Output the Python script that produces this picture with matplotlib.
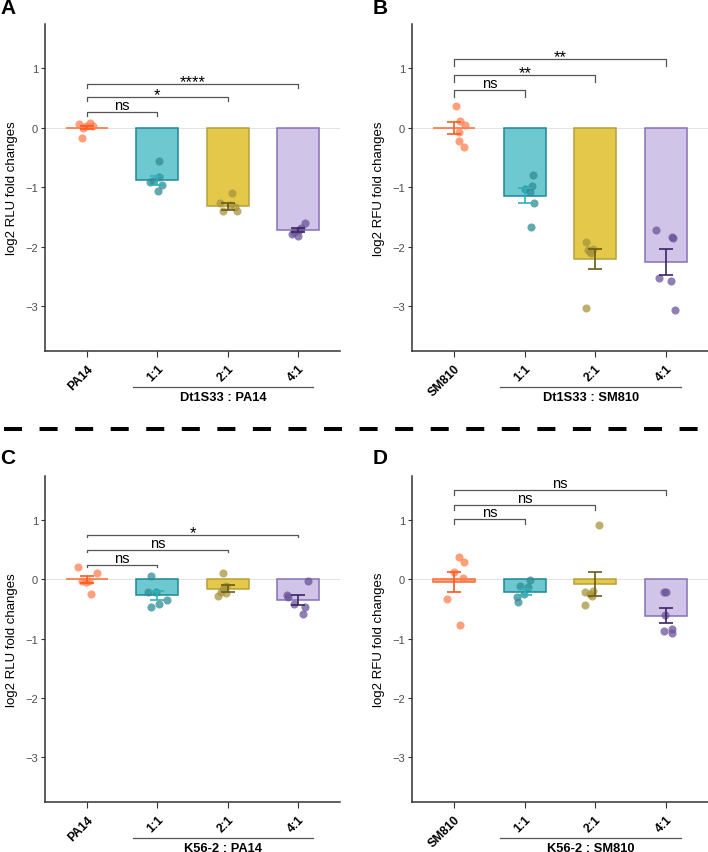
import matplotlib
matplotlib.use("Agg")
import matplotlib.pyplot as plt
import matplotlib.transforms as mtransforms
from matplotlib.lines import Line2D

plt.rcParams['font.family'] = ['Liberation Sans', 'DejaVu Sans']
plt.rcParams['lines.scale_dashes'] = False

# ---- data ----
groups_pa = ["PA14", "1:1", "2:1", "4:1"]
groups_sm = ["SM810", "1:1", "2:1", "4:1"]

# panel A : Dt1S33 : PA14
means_A = [0.0, -0.88, -1.32, -1.72]
se_A = [0.03, 0.075, 0.055, 0.04]
points_A = [[0.06, -0.18, 0.0, 0.07, 0.03, 0.02],
            [-0.56, -0.92, -0.83, -0.97, -1.06, -0.90],
            [-1.10, -1.27, -1.40, -1.33, -1.40, -1.30],
            [-1.60, -1.68, -1.78, -1.82, -1.75, -1.72]]
jitter_A = [[-0.11, -0.07, -0.06, 0.04, 0.08, -0.01],
            [0.03, -0.11, 0.03, 0.06, 0.01, -0.06],
            [0.06, -0.11, -0.07, 0.11, 0.14, 0.04],
            [0.10, 0.05, -0.09, 0.0, -0.06, 0.02]]
sig_A = ["ns", "*", "****"]
sig_y_A = [0.26, 0.51, 0.74]

# panel B : Dt1S33 : SM810
means_B = [-0.01, -1.14, -2.21, -2.26]
se_B = [0.105, 0.12, 0.165, 0.22]
points_B = [[0.36, 0.11, 0.05, -0.07, -0.23, -0.32],
            [-0.79, -0.98, -1.03, -1.08, -1.27, -1.66],
            [-1.92, -2.06, -2.11, -2.04, -3.02, -2.08],
            [-1.72, -1.84, -1.85, -2.52, -2.57, -3.07]]
jitter_B = [[0.03, 0.08, 0.15, 0.06, 0.06, 0.14],
            [0.12, 0.10, 0.0, 0.07, 0.13, 0.09],
            [-0.13, -0.10, -0.06, -0.03, -0.13, -0.08],
            [-0.14, 0.09, 0.10, -0.10, 0.07, 0.13]]
sig_B = ["ns", "**", "**"]
sig_y_B = [0.63, 0.88, 1.15]

# panel C : K56-2 : PA14
means_C = [0.0, -0.27, -0.16, -0.35]
se_C = [0.06, 0.08, 0.06, 0.08]
points_C = [[0.21, 0.11, -0.02, -0.04, -0.03, -0.24],
            [0.06, -0.21, -0.21, -0.35, -0.42, -0.47],
            [0.10, -0.11, -0.17, -0.21, -0.28, -0.23],
            [-0.03, -0.26, -0.30, -0.41, -0.47, -0.59]]
jitter_C = [[-0.13, 0.14, -0.08, -0.01, 0.02, 0.06],
            [-0.09, -0.13, -0.02, 0.13, 0.02, -0.09],
            [-0.06, -0.02, -0.06, -0.09, -0.13, -0.03],
            [0.14, -0.15, -0.14, -0.05, 0.10, 0.08]]
sig_C = ["ns", "ns", "*"]
sig_y_C = [0.24, 0.50, 0.75]

# panel D : K56-2 : SM810
means_D = [-0.045, -0.21, -0.075, -0.61]
se_D = [0.175, 0.05, 0.20, 0.13]
points_D = [[0.37, 0.29, 0.13, 0.02, -0.33, -0.77],
            [-0.01, -0.12, -0.13, -0.29, -0.38, -0.24],
            [0.92, -0.22, -0.20, -0.28, -0.43, -0.24],
            [-0.22, -0.21, -0.60, -0.87, -0.83, -0.90]]
jitter_D = [[0.07, 0.14, 0.0, 0.13, -0.11, 0.08],
            [0.07, -0.07, 0.05, -0.11, -0.09, -0.01],
            [0.06, -0.14, -0.03, -0.04, -0.14, -0.07],
            [-0.03, 0.01, -0.01, -0.02, 0.09, 0.09]]
sig_D = ["ns", "ns", "ns"]
sig_y_D = [1.01, 1.25, 1.50]

fill_cols = ["#FFAA8A", "#6EC8D0", "#E3C84A", "#D0C4E8"]
edge_cols = ["#FF6A33", "#1B8797", "#B8A03A", "#8670B0"]
point_cols = ["#FF7F50", "#2F8C96", "#A8953E", "#6B5499"]
err_cols = ["#FF5A1F", "#2AB3BF", "#6B5B15", "#3D2466"]


def panel(ax, groups, means, se, points, jitter, sig, sig_y, tip, ylab, group_lab):
    x = range(len(groups))
    ax.axhline(0, color="#E3E3E3", lw=0.7, zorder=0)
    ax.bar(x, means, width=0.6, color=fill_cols, edgecolor=edge_cols,
           linewidth=1.1, zorder=1)
    for i in x:
        xs = [i + j for j in jitter[i]]
        ax.scatter(xs, points[i], s=34, color=point_cols[i], alpha=0.75,
                   linewidths=0, zorder=2)
        ax.errorbar(i, means[i], yerr=se[i], color=err_cols[i], capsize=4.8,
                    elinewidth=1.2, capthick=1.2, zorder=3)
    # significance brackets
    for k, (lab, y) in enumerate(zip(sig, sig_y)):
        x2 = k + 1
        ax.plot([0, 0, x2, x2], [y - tip, y, y, y - tip], color="#555555",
                lw=0.9, zorder=4)
        if lab == "ns":
            ax.text(x2 / 2, y + 0.12, lab, ha="center", va="center",
                    fontsize=10.5, color="black")
        else:
            ax.text(x2 / 2, y + 0.04, lab, ha="center", va="center",
                    fontsize=12, color="black")
    ax.set_xlim(-0.6, 3.6)
    ax.set_ylim(-3.75, 1.74)
    ax.set_yticks([-3, -2, -1, 0, 1])
    ax.set_xticks(list(x))
    ax.set_xticklabels(groups, rotation=45, ha="right", va="top",
                       rotation_mode="anchor", fontweight="bold", fontsize=8.8)
    ax.tick_params(axis="y", labelsize=8, labelcolor="#4D4D4D", length=3,
                   width=0.8, color="#333333", pad=2)
    ax.tick_params(axis="x", length=4, width=0.8, color="#333333", pad=4)
    for s in ["top", "right"]:
        ax.spines[s].set_visible(False)
    for s in ["left", "bottom"]:
        ax.spines[s].set_linewidth(1.1)
        ax.spines[s].set_color("#333333")
    ax.set_ylabel(ylab, fontsize=9.5, labelpad=5)
    trans = mtransforms.blended_transform_factory(ax.transData, ax.transAxes)
    ax.add_line(Line2D([0.654, 3.22], [-0.109, -0.109], transform=trans,
                       color="#555555", lw=0.9, clip_on=False))
    ax.text(1.937, -0.14, group_lab, transform=trans, ha="center", va="center",
            fontsize=9.3, fontweight="bold", clip_on=False)


fig = plt.figure(figsize=(7.08, 8.53), dpi=100)
W, H = 708.0, 853.0
axA = fig.add_axes([45 / W, 1 - 352 / H, 295 / W, 327 / H])
axB = fig.add_axes([412 / W, 1 - 352 / H, 296 / W, 327 / H])
axC = fig.add_axes([45 / W, 1 - 803 / H, 295 / W, 326 / H])
axD = fig.add_axes([412 / W, 1 - 803 / H, 296 / W, 326 / H])

panel(axA, groups_pa, means_A, se_A, points_A, jitter_A, sig_A, sig_y_A, 0.07,
      "log2 RLU fold changes", "Dt1S33 : PA14")
panel(axB, groups_sm, means_B, se_B, points_B, jitter_B, sig_B, sig_y_B, 0.12,
      "log2 RFU fold changes", "Dt1S33 : SM810")
panel(axC, groups_pa, means_C, se_C, points_C, jitter_C, sig_C, sig_y_C, 0.04,
      "log2 RLU fold changes", "K56-2 : PA14")
panel(axD, groups_sm, means_D, se_D, points_D, jitter_D, sig_D, sig_y_D, 0.08,
      "log2 RFU fold changes", "K56-2 : SM810")

# panel letters
for lab, px, py in [("A", 8, 9), ("B", 380, 9), ("C", 8, 459), ("D", 380, 459)]:
    fig.text(px / W, 1 - py / H, lab, fontsize=15, fontweight="bold",
             ha="center", va="center")

# dashed separator
sep = Line2D([4 / W, 1.0], [1 - 430 / H, 1 - 430 / H], transform=fig.transFigure,
             color="black", lw=2.9, linestyle=(0, (13, 12.6)),
             solid_capstyle="butt", dash_capstyle="butt")
fig.add_artist(sep)

fig.savefig("out.png", dpi=100)
